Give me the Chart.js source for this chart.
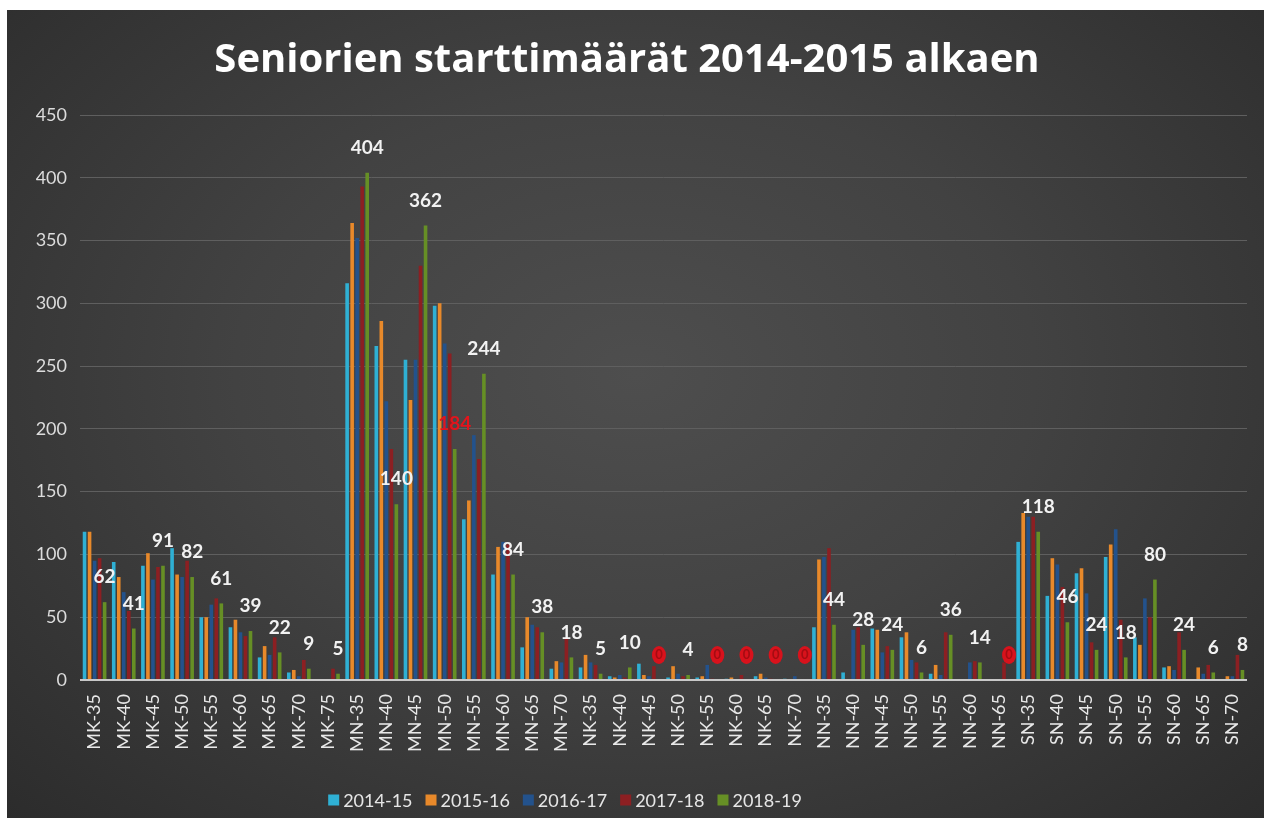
<!doctype html>
<html lang="fi">
<head>
<meta charset="UTF-8" />
<title>Seniorien starttimäärät</title>
<style>
  html, body { margin: 0; padding: 0; background: #fff; }
  .wrap {
    position: absolute; left: 7px; top: 10px; width: 1257px; height: 808px;
    background: radial-gradient(ellipse at 50% 45%, #4e4e4e 0%, #424242 45%, #2c2c2c 100%);
  }
</style>
<script src="https://cdn.jsdelivr.net/npm/chart.js"></script>
</head>
<body>
<div class="wrap"><canvas id="chart"></canvas></div>
<script>
const categories = [
  'MK-35','MK-40','MK-45','MK-50','MK-55','MK-60','MK-65','MK-70','MK-75',
  'MN-35','MN-40','MN-45','MN-50','MN-55','MN-60','MN-65','MN-70',
  'NK-35','NK-40','NK-45','NK-50','NK-55','NK-60','NK-65','NK-70',
  'NN-35','NN-40','NN-45','NN-50','NN-55','NN-60','NN-65',
  'SN-35','SN-40','SN-45','SN-50','SN-55','SN-60','SN-65','SN-70'
];
const seasons = ['2014-15', '2015-16', '2016-17', '2017-18', '2018-19'];

const s1415 = [118, 94, 91, 105, 50, 42, 18, 6, 0,
  316, 266, 255, 298, 128, 84, 26, 9,
  10, 3, 13, 2, 2, 1, 3, 1,
  42, 6, 41, 34, 5, 0, 0,
  110, 67, 85, 98, 34, 10, 0, 0];
const s1516 = [118, 82, 101, 84, 50, 48, 27, 8, 0,
  364, 286, 223, 300, 143, 106, 50, 15,
  20, 2, 4, 11, 3, 2, 5, 0,
  96, 0, 40, 38, 12, 0, 0,
  133, 97, 89, 108, 28, 11, 10, 3];
const s1617 = [95, 70, 80, 82, 60, 38, 20, 3, 0,
  352, 222, 255, 268, 195, 110, 44, 14,
  14, 4, 3, 5, 12, 0, 2, 3,
  98, 40, 22, 16, 4, 14, 0,
  130, 92, 69, 120, 65, 8, 5, 3];
const s1718 = [97, 55, 90, 95, 65, 35, 34, 16, 9,
  393, 184, 330, 260, 176, 108, 42, 33,
  12, 2, 11, 3, 1, 4, 1, 0,
  105, 42, 27, 14, 38, 15, 14,
  130, 74, 30, 48, 50, 38, 12, 20];
const s1819 = [62, 41, 91, 82, 61, 39, 22, 9, 5,
  404, 140, 362, 184, 244, 84, 38, 18,
  5, 10, 0, 4, 0, 0, 0, 0,
  44, 28, 24, 6, 36, 14, 0,
  118, 46, 24, 18, 80, 24, 6, 8];

const yTicks = [0, 50, 100, 150, 200, 250, 300, 350, 400, 450];
const redLabelCats = ['MN-50'];

const colors = ['#2fb0d4', '#e8892a', '#23528c', '#8c1f22', '#668f25'];
const seriesData = [s1415, s1516, s1617, s1718, s1819];

const labelFont = 'bold 19px Lato, "Open Sans", sans-serif';

// labels above the last season's bars
const valueLabels = {
  id: 'valueLabels',
  afterDatasetsDraw(chart) {
    const ctx = chart.ctx;
    const meta = chart.getDatasetMeta(4);
    ctx.save();
    ctx.textAlign = 'center';
    ctx.textBaseline = 'middle';
    meta.data.forEach((bar, i) => {
      const v = s1819[i];
      const y = bar.y - 25;
      if (v === 0) {
        ctx.fillStyle = '#d8121c';
        ctx.beginPath();
        ctx.ellipse(bar.x, y, 7, 9, 0, 0, Math.PI * 2);
        ctx.fill();
        ctx.fillStyle = '#a50c12';
        ctx.font = 'bold 13px Lato, sans-serif';
        ctx.fillText('0', bar.x, y);
        return;
      }
      ctx.font = labelFont;
      ctx.fillStyle = redLabelCats.includes(categories[i]) ? '#e3141c' : '#f2f2f2';
      ctx.fillText(String(v), bar.x, y);
    });
    ctx.restore();
  }
};

// legend drawn under the axis labels
const bottomLegend = {
  id: 'bottomLegend',
  afterDraw(chart) {
    const ctx = chart.ctx;
    ctx.save();
    ctx.font = '18px Lato, "Open Sans", sans-serif';
    ctx.textBaseline = 'middle';
    const box = 11, gap = 4, itemGap = 13;
    const widths = seasons.map((s) => box + gap + ctx.measureText(s).width);
    const total = widths.reduce((a, b) => a + b, 0) + itemGap * (seasons.length - 1);
    let x = 558 - total / 2;
    const y = 790;
    seasons.forEach((s, i) => {
      ctx.fillStyle = colors[i];
      ctx.fillRect(x, y - box / 2, box, box);
      ctx.fillStyle = '#e6e6e6';
      ctx.fillText(s, x + box + gap, y + 1);
      x += widths[i] + itemGap;
    });
    ctx.restore();
  }
};

new Chart(document.getElementById('chart'), {
  type: 'bar',
  data: {
    labels: categories,
    datasets: seasons.map((s, i) => ({
      label: s,
      data: seriesData[i],
      backgroundColor: colors[i],
      categoryPercentage: 0.86,
      barPercentage: 0.72
    }))
  },
  options: {
    responsive: true,
    maintainAspectRatio: false,
    animation: false,
    layout: { padding: { left: 0, right: 17, top: 0, bottom: 58 } },
    plugins: {
      legend: { display: false },
      tooltip: { enabled: false },
      title: {
        display: true,
        text: 'Seniorien starttimäärät 2014-2015 alkaen',
        color: '#ffffff',
        font: { family: '"Open Sans", Lato, sans-serif', size: 40, weight: 'bold' },
        padding: { top: 27, bottom: 30 }
      }
    },
    scales: {
      x: {
        grid: { display: false },
        border: { display: false },
        ticks: {
          color: '#e8e8e8',
          font: { family: 'Lato, "Open Sans", sans-serif', size: 18 },
          autoSkip: false,
          minRotation: 90,
          maxRotation: 90,
          padding: 6
        },
        afterFit(scale) { scale.height = 80; }
      },
      y: {
        min: 0,
        max: 450,
        afterBuildTicks(scale) { scale.ticks = yTicks.map((v) => ({ value: v })); },
        grid: {
          drawTicks: false,
          color: (c) => (c.tick && c.tick.value === 0 ? '#c8c8c8' : '#5f5f5f'),
          lineWidth: (c) => (c.tick && c.tick.value === 0 ? 2 : 1)
        },
        border: { display: false },
        ticks: {
          color: '#dcdcdc',
          font: { family: 'Lato, "Open Sans", sans-serif', size: 18 },
          padding: 13
        },
        afterFit(scale) { scale.width = 73; }
      }
    }
  },
  plugins: [valueLabels, bottomLegend]
});
</script>
</body>
</html>
